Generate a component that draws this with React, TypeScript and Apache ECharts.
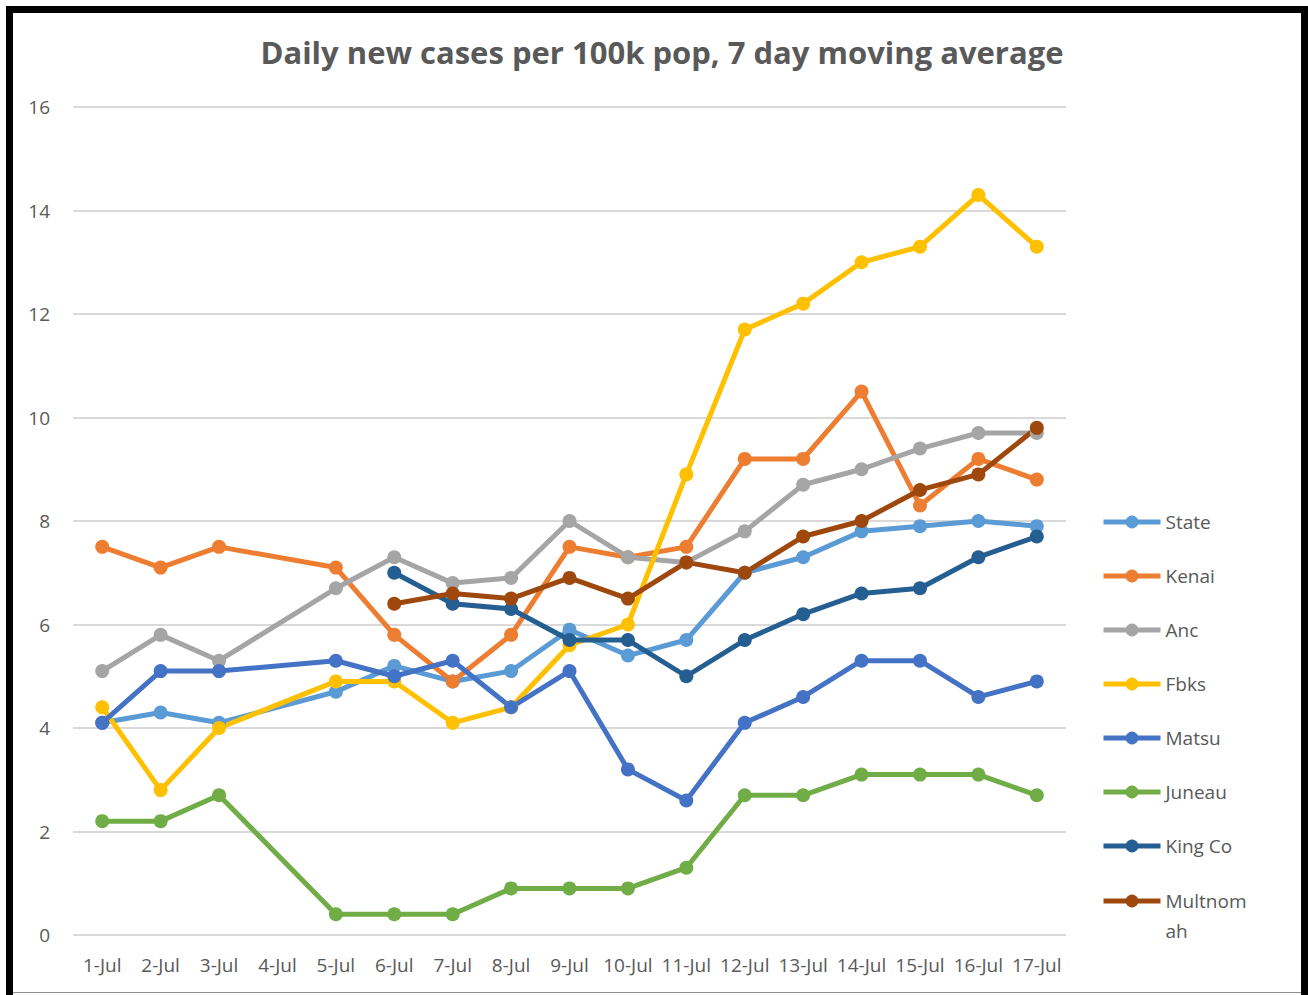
import React, { useEffect, useRef } from "react";
import * as echarts from "echarts";

const categories = ["1-Jul","2-Jul","3-Jul","4-Jul","5-Jul","6-Jul","7-Jul","8-Jul","9-Jul","10-Jul","11-Jul","12-Jul","13-Jul","14-Jul","15-Jul","16-Jul","17-Jul"];

const stateVals =  [4.1, 4.3, 4.1, null, 4.7, 5.2, 4.9, 5.1, 5.9, 5.4, 5.7, 7.0, 7.3, 7.8, 7.9, 8.0, 7.9];
const kenaiVals =  [7.5, 7.1, 7.5, null, 7.1, 5.8, 4.9, 5.8, 7.5, 7.3, 7.5, 9.2, 9.2, 10.5, 8.3, 9.2, 8.8];
const ancVals =    [5.1, 5.8, 5.3, null, 6.7, 7.3, 6.8, 6.9, 8.0, 7.3, 7.2, 7.8, 8.7, 9.0, 9.4, 9.7, 9.7];
const fbksVals =   [4.4, 2.8, 4.0, null, 4.9, 4.9, 4.1, 4.4, 5.6, 6.0, 8.9, 11.7, 12.2, 13.0, 13.3, 14.3, 13.3];
const matsuVals =  [4.1, 5.1, 5.1, null, 5.3, 5.0, 5.3, 4.4, 5.1, 3.2, 2.6, 4.1, 4.6, 5.3, 5.3, 4.6, 4.9];
const juneauVals = [2.2, 2.2, 2.7, null, 0.4, 0.4, 0.4, 0.9, 0.9, 0.9, 1.3, 2.7, 2.7, 3.1, 3.1, 3.1, 2.7];
const kingVals =   [null, null, null, null, null, 7.0, 6.4, 6.3, 5.7, 5.7, 5.0, 5.7, 6.2, 6.6, 6.7, 7.3, 7.7];
const multVals =   [null, null, null, null, null, 6.4, 6.6, 6.5, 6.9, 6.5, 7.2, 7.0, 7.7, 8.0, 8.6, 8.9, 9.8];

const seriesNames = ["State", "Kenai", "Anc", "Fbks", "Matsu", "Juneau", "King Co", "Multnomah"];
const seriesColors = ["#5B9BD5", "#ED7D31", "#A5A5A5", "#FFC000", "#4472C4", "#70AD47", "#255E91", "#9E480E"];
const seriesData = [stateVals, kenaiVals, ancVals, fbksVals, matsuVals, juneauVals, kingVals, multVals];

const yTicks = { min: 0, max: 16, interval: 2 };
const titleText = "Daily new cases per 100k pop, 7 day moving average";

const FONT = "'Open Sans', sans-serif";
const GREY = "#595959";

export default function App() {
  const ref = useRef<HTMLDivElement>(null);

  useEffect(() => {
    document.body.style.margin = "0";
    if (!ref.current) return;
    const chart = echarts.init(ref.current, null, { renderer: "svg" });

    const legendText = {
      color: GREY,
      fontFamily: FONT,
      fontSize: 19,
      lineHeight: 30,
    };

    chart.setOption({
      animation: false,
      backgroundColor: "#FFFFFF",
      title: {
        text: titleText,
        left: 657,
        top: 31,
        textAlign: "center",
        textStyle: { color: GREY, fontFamily: FONT, fontWeight: "bold", fontSize: 31 },
      },
      grid: { left: 73, right: 242, top: 107, bottom: 60, containLabel: false },
      legend: [
        {
          orient: "vertical",
          left: 1101,
          top: 507,
          padding: 0,
          itemGap: 24,
          itemWidth: 57,
          itemHeight: 16,
          data: seriesNames.slice(0, 7),
          textStyle: legendText,
          lineStyle: { width: 5 },
        },
        {
          orient: "vertical",
          left: 1101,
          top: 856,
          padding: 0,
          itemWidth: 57,
          itemHeight: 16,
          data: [seriesNames[7]],
          formatter: () => "\nMultnom\nah",
          textStyle: legendText,
          lineStyle: { width: 5 },
        },
      ],
      xAxis: {
        type: "category",
        data: categories,
        boundaryGap: true,
        axisLine: { show: false },
        axisTick: { show: false },
        axisLabel: { interval: 0, color: GREY, fontFamily: FONT, fontSize: 19, margin: 20 },
        splitLine: { show: false },
      },
      yAxis: {
        type: "value",
        min: yTicks.min,
        max: yTicks.max,
        interval: yTicks.interval,
        axisLine: { show: false },
        axisTick: { show: false },
        axisLabel: { color: GREY, fontFamily: FONT, fontSize: 19, margin: 23 },
        splitLine: { lineStyle: { color: "#D9D9D9", width: 2 } },
      },
      series: seriesNames.map((name, i) => ({
        name,
        type: "line",
        data: seriesData[i],
        connectNulls: true,
        symbol: "circle",
        symbolSize: 14,
        showSymbol: true,
        itemStyle: { color: seriesColors[i] },
        lineStyle: { color: seriesColors[i], width: 5 },
      })),
      graphic: [
        { type: "rect", shape: { x: 6, y: 6, width: 7, height: 989 }, style: { fill: "#000" } },
        { type: "rect", shape: { x: 6, y: 6, width: 1302, height: 7 }, style: { fill: "#000" } },
        { type: "rect", shape: { x: 1301, y: 6, width: 7, height: 989 }, style: { fill: "#000" } },
        { type: "rect", shape: { x: 13, y: 992, width: 1288, height: 1 }, style: { fill: "#8c8c8c" } },
      ],
    });

    return () => chart.dispose();
  }, []);

  return <div ref={ref} style={{ width: 1308, height: 995 }} />;
}
